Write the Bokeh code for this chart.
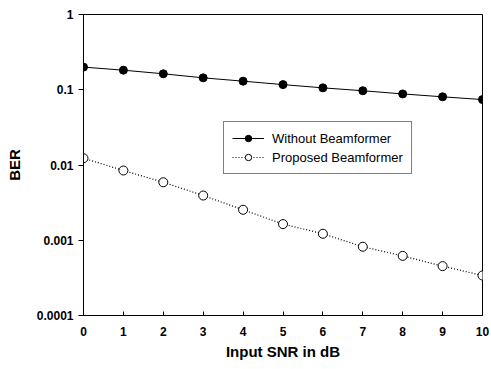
from bokeh.plotting import figure
from bokeh.models import FixedTicker, CustomJSTickFormatter, Range1d, Legend, LegendItem
from bokeh.embed import file_html
from bokeh.resources import INLINE

snr_db = [0, 1, 2, 3, 4, 5, 6, 7, 8, 9, 10]
ber_without = [0.200, 0.182, 0.163, 0.144, 0.130, 0.117, 0.106, 0.097, 0.088, 0.0806, 0.074]
ber_proposed = [0.0123, 0.00845, 0.0059, 0.00393, 0.00254, 0.00164, 0.00122, 0.00082, 0.00062, 0.000453, 0.00034]
y_ticks = [0.0001, 0.001, 0.01, 0.1, 1]
y_tick_labels = ["0.0001", "0.001", "0.01", "0.1", "1"]
x_ticks = [0, 1, 2, 3, 4, 5, 6, 7, 8, 9, 10]
series_names = ["Without Beamformer", "Proposed Beamformer"]

FONT = "Liberation Sans"

p = figure(frame_width=399, frame_height=301, y_axis_type="log",
           x_range=Range1d(0, 10), y_range=Range1d(0.0001, 1),
           output_backend="svg", toolbar_location=None,
           min_border_left=83, min_border_top=14, min_border_right=9, min_border_bottom=54)

p.xgrid.visible = False
p.ygrid.visible = False
p.outline_line_color = "black"
p.outline_line_width = 1
p.background_fill_color = "white"
p.border_fill_color = "white"

r1l = p.line(snr_db, ber_without, line_color="black", line_width=1)
r1s = p.scatter(snr_db, ber_without, size=8, fill_color="black", line_color="black")
r2l = p.line(snr_db, ber_proposed, line_color="black", line_width=1.2, line_dash="1 2")
r2s = p.scatter(snr_db, ber_proposed, size=9, fill_color="white", line_color="black", line_width=1)

# axes
xa = p.xaxis[0]
xa.ticker = FixedTicker(ticks=x_ticks)
xa.minor_tick_line_color = None
xa.major_tick_in = 4
xa.major_tick_out = 0
xa.major_label_standoff = 11
xa.axis_label = "Input SNR in dB"
xa.axis_label_text_font = FONT
xa.axis_label_text_font_style = "bold"
xa.axis_label_text_font_size = "15px"
xa.axis_label_text_color = "black"
xa.axis_label_standoff = 4
xa.major_label_text_font = FONT
xa.major_label_text_font_style = "bold"
xa.major_label_text_font_size = "12px"
xa.major_label_text_color = "black"
xa.axis_line_color = "black"
xa.major_tick_line_color = "black"

ya = p.yaxis[0]
ya.ticker = FixedTicker(ticks=y_ticks, minor_ticks=[])
ya.formatter = CustomJSTickFormatter(args=dict(labels=y_tick_labels),
                                     code="return labels[Math.round(Math.log10(tick)) + 4];")
ya.minor_tick_line_color = None
ya.major_tick_in = 0
ya.major_tick_out = 5
ya.major_label_standoff = 5
ya.axis_label = "BER"
ya.axis_label_text_font = FONT
ya.axis_label_text_font_style = "bold"
ya.axis_label_text_font_size = "15px"
ya.axis_label_text_color = "black"
ya.axis_label_standoff = 11
ya.major_label_text_font = FONT
ya.major_label_text_font_style = "bold"
ya.major_label_text_font_size = "12px"
ya.major_label_text_color = "black"
ya.axis_line_color = "black"
ya.major_tick_line_color = "black"

legend = Legend(items=[LegendItem(label=series_names[0], renderers=[r1l, r1s]),
                       LegendItem(label=series_names[1], renderers=[r2l, r2s])],
                location=(140, 141))
legend.border_line_color = "black"
legend.border_line_width = 1
legend.background_fill_alpha = 1
legend.label_text_font = FONT
legend.label_text_font_size = "13px"
legend.label_text_color = "black"
legend.glyph_width = 32
legend.glyph_height = 16
legend.label_height = 16
legend.label_standoff = 8
legend.spacing = 3
legend.padding = 8
legend.margin = 0
p.add_layout(legend, "center")

open("out.html", "w").write(file_html(p, INLINE))
